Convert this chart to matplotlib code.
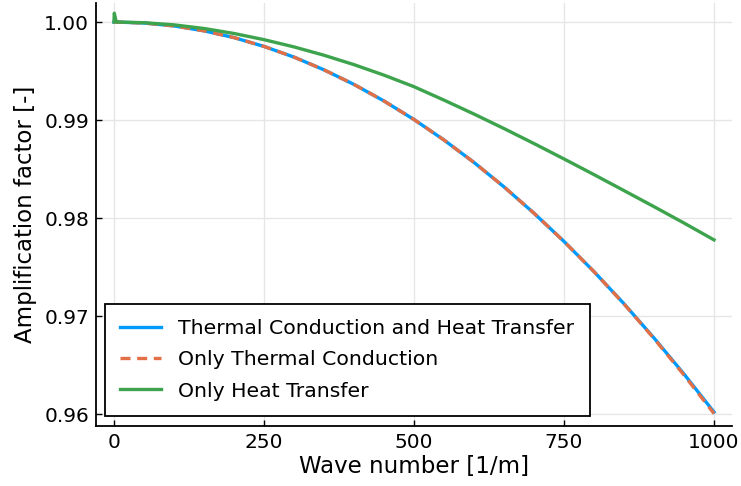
import numpy as np
import matplotlib
matplotlib.use('Agg')
import matplotlib.pyplot as plt

# wave numbers [1/m]
k = [0, 50, 100, 150, 200, 250, 300, 350, 400, 450, 500,
     550, 600, 650, 700, 750, 800, 850, 900, 950, 1000]

# amplification factors
both = [1.0, 0.99990, 0.99960, 0.99910, 0.99841, 0.99751, 0.99642, 0.99512,
        0.99363, 0.99194, 0.99005, 0.98796, 0.98567, 0.98318, 0.98049,
        0.97761, 0.97453, 0.97125, 0.96776, 0.96408, 0.96020]
conduction = [1.0, 0.99990, 0.99960, 0.99910, 0.99841, 0.99751, 0.99642, 0.99512,
              0.99363, 0.99194, 0.99005, 0.98796, 0.98567, 0.98318, 0.98049,
              0.97761, 0.97453, 0.97123, 0.96771, 0.96398, 0.96005]
k_heat = [0, 0.5, 3, 5, 50, 100, 150, 200, 250, 300, 350, 400, 450, 500,
          550, 600, 650, 700, 750, 800, 850, 900, 950, 1000]
heat = [1.0, 1.0009, 1.0002, 1.0, 0.99993, 0.99971, 0.99934, 0.99883, 0.99820,
        0.99746, 0.99661, 0.99565, 0.99458, 0.99340, 0.99203, 0.99061,
        0.98913, 0.98760, 0.98603, 0.98443, 0.98280, 0.98116, 0.97949, 0.97777]

labels = ['Thermal Conduction and Heat Transfer', 'Only Thermal Conduction',
          'Only Heat Transfer']
xticks = [0, 250, 500, 750, 1000]
yticks = [0.96, 0.97, 0.98, 0.99, 1.00]

fig = plt.figure(figsize=(7.41, 4.86), dpi=100)
ax = fig.add_axes([96 / 741, 1 - 426 / 486, (732 - 96) / 741, (426 - 3) / 486])

ax.plot(k, both, color='#009AFA', lw=2.4, label=labels[0])
ax.plot(k, conduction, color='#E26F46', lw=2.4, ls=(0, (3.0, 2.0)), label=labels[1])
ax.plot(k_heat, heat, color='#3DA44D', lw=2.4, label=labels[2])

ax.set_xlim(-30, 1030)
ax.set_ylim(0.95878, 1.00194)
ax.set_xticks(xticks)
ax.set_xticklabels([str(t) for t in xticks])
ax.set_yticks(yticks)
ax.set_yticklabels(['%.2f' % t for t in yticks])
ax.grid(True, color='#e6e6e6', lw=1)
ax.set_axisbelow(True)
for s in ['top', 'right']:
    ax.spines[s].set_visible(False)
for s in ['left', 'bottom']:
    ax.spines[s].set_linewidth(1.3)
ax.tick_params(direction='in', length=4, width=1, labelsize=14.5, pad=5)

ax.set_xlabel('Wave number [1/m]', fontsize=16.5, labelpad=2)
ax.set_ylabel('Amplification factor [-]', fontsize=16.5, labelpad=5)

leg = ax.legend(loc='lower left', fontsize=14.7, frameon=True, fancybox=False,
                edgecolor='black', framealpha=1, handlelength=2.0,
                handletextpad=0.85, borderpad=0.75, labelspacing=0.6,
                borderaxespad=0, bbox_to_anchor=(0.014, 0.024))
leg.get_frame().set_linewidth(1.3)

fig.savefig('out.png', dpi=100)
